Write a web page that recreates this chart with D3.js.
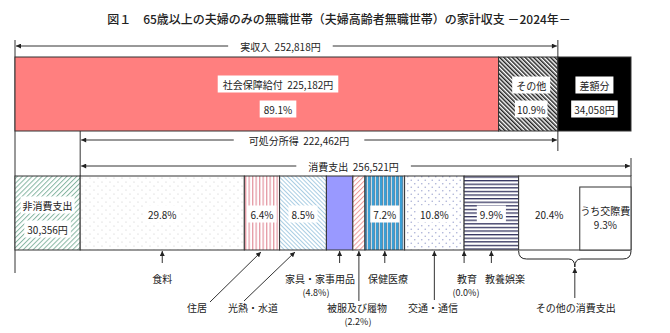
<!DOCTYPE html>
<html><head><meta charset="utf-8">
<script src="https://cdn.jsdelivr.net/npm/d3@7"></script>
<style>
html,body{margin:0;padding:0;background:#fff;}
svg text{font-family:"Noto Sans CJK JP","Noto Sans",sans-serif;fill:#222;white-space:pre;}
</style></head>
<body><svg id="c" width="670" height="333"></svg>
<script>
// ---- data ----
const title = "図１　65歳以上の夫婦のみの無職世帯（夫婦高齢者無職世帯）の家計収支 －2024年－";
const incomeCats = ["社会保障給付", "その他", "差額分"];
const incomeVals = [225182, 27636, 34058];
const incomeTotal = 252818;
const incomeShares = ["89.1%", "10.9%"];
const disposable = 222462;
const nonConsumption = 30356;
const consumption = 256521;
const consCats = ["食料","住居","光熱・水道","家具・家事用品","被服及び履物","保健医療","交通・通信","教育","教養娯楽","その他の消費支出"];
const consShares = [29.8, 6.4, 8.5, 4.8, 2.2, 7.2, 10.8, 0.0, 9.9, 20.4];
const kosaihiShare = 9.3;

// ---- layout ----
const svg = d3.select("#c");
const x = d3.scaleLinear().domain([0, nonConsumption + consumption]).range([15, 631]);
const topY = 57, topH = 74, botY = 176, botH = 74;
const defs = svg.append("defs");

function stripePat(id, color, size, width, angle, bg) {
  const p = defs.append("pattern").attr("id", id).attr("patternUnits", "userSpaceOnUse")
    .attr("width", size).attr("height", size).attr("patternTransform", `rotate(${angle})`);
  p.append("rect").attr("width", size).attr("height", size).attr("fill", bg || "#fff");
  p.append("rect").attr("x", 0).attr("y", 0).attr("width", width).attr("height", size).attr("fill", color);
}
stripePat("pOther", "#222", 3, 1.5, -45);
stripePat("pNon", "#86b6a2", 3.5, 1, 45);
stripePat("pHouse", "#e59aa6", 3.5, 1.3, 0);
stripePat("pUtil", "#a9cde3", 3, 1, -45);
stripePat("pCloth", "#ef9c9c", 3.5, 1, 45);
stripePat("pEdu", "#33335f", 3.6, 1.3, 90);
(function(){
  const p = defs.append("pattern").attr("id","pHealth").attr("patternUnits","userSpaceOnUse").attr("width",4).attr("height",4);
  p.append("rect").attr("width",4).attr("height",4).attr("fill","#fff");
  p.append("rect").attr("x",0).attr("width",2.6).attr("height",4).attr("fill","#3a9fd6");
  p.append("rect").attr("x",2.6).attr("width",0.6).attr("height",4).attr("fill","#1d3b55");
})();
function dotPat(id, color, size, r) {
  const p = defs.append("pattern").attr("id", id).attr("patternUnits", "userSpaceOnUse").attr("width", size).attr("height", size);
  p.append("rect").attr("width", size).attr("height", size).attr("fill", "#fff");
  p.append("circle").attr("cx", size/4).attr("cy", size/4).attr("r", r).attr("fill", color);
  p.append("circle").attr("cx", size*3/4).attr("cy", size*3/4).attr("r", r).attr("fill", color);
}
dotPat("pFood", "#c8c8c8", 8, 0.6);
dotPat("pTrans", "#aab0d6", 7, 0.8);

const consFills = ["url(#pFood)","url(#pHouse)","url(#pUtil)","#9999ff","url(#pCloth)","url(#pHealth)","url(#pTrans)","#fff","url(#pEdu)","#fff"];

function marker(id){
  defs.append("marker").attr("id", id).attr("viewBox","0 0 10 10").attr("refX",10).attr("refY",5)
    .attr("markerWidth",6).attr("markerHeight",5).attr("markerUnits","userSpaceOnUse").attr("orient","auto-start-reverse")
    .append("path").attr("d","M0,0 L10,5 L0,10 z").attr("fill","#222");
}
marker("arr");

const g = svg.append("g");
function line(x1,y1,x2,y2,opts){
  const l = g.append("line").attr("x1",x1).attr("y1",y1).attr("x2",x2).attr("y2",y2)
    .attr("stroke","#333").attr("stroke-width",1);
  if (opts && opts.start) l.attr("marker-start","url(#arr)");
  if (opts && opts.end) l.attr("marker-end","url(#arr)");
  return l;
}
function boxText(cx, cy, text, size, pad, noBox){
  const grp = g.append("g");
  const r = grp.append("rect").attr("fill","#fff");
  const t = grp.append("text").attr("x",cx).attr("y",cy).attr("text-anchor","middle")
    .attr("dominant-baseline","central").attr("font-size",size||10).text(text);
  const b = t.node().getBBox();
  const p = pad == null ? 3 : pad;
  r.attr("x", b.x - p).attr("y", b.y - 1).attr("width", b.width + 2*p).attr("height", b.height + 2);
  if (noBox) r.remove();
  return grp;
}
const fmt = d3.format(",");

g.append("text").attr("x", 339).attr("y", 18).attr("text-anchor","middle").attr("dominant-baseline","central")
  .attr("font-size",12).attr("font-weight",500).text(title);

const incomeEdges = [0];
incomeVals.forEach((v,i)=>incomeEdges.push(incomeEdges[i]+v));
const xInc = x(incomeTotal), xNon = x(nonConsumption), xEnd = x(nonConsumption+consumption);

line(x(0), 40, x(0), 273);
line(xInc, 40, xInc, topY);
line(xInc, topY+topH, xInc, 151);
line(xNon, topY+topH, xNon, botY);
line(xEnd, 158, xEnd, botY);

line(x(0)+1, 46, xInc-1, 46, {start:true, end:true});
boxText((x(0)+xInc)/2 - 6, 46, `実収入  ${fmt(incomeTotal)}円`, 10, 12);
line(xNon+1, 140, xInc-1, 140, {start:true, end:true});
boxText((xNon+xInc)/2 - 20, 140, `可処分所得  ${fmt(disposable)}円`, 10, 15);
line(xNon+1, 166, xEnd-1, 166, {start:true, end:true});
boxText((xNon+xEnd)/2 - 2, 166, `消費支出  ${fmt(consumption)}円`, 10, 12);

const topFills = ["#ff7f7f", "url(#pOther)", "#000"];
g.selectAll("rect.top").data(incomeVals).enter().append("rect").attr("class","top")
  .attr("x",(d,i)=>x(incomeEdges[i])).attr("y",topY)
  .attr("width",(d,i)=>x(incomeEdges[i+1])-x(incomeEdges[i])).attr("height",topH)
  .attr("fill",(d,i)=>topFills[i]).attr("stroke","#333").attr("stroke-width",1);
boxText(278, 84, `${incomeCats[0]}  ${fmt(incomeVals[0])}円`, 10, 5);
boxText(278, 109, incomeShares[0], 10, 4);
const cOther = (x(incomeEdges[1])+x(incomeEdges[2]))/2 + 3;
boxText(cOther, 85, incomeCats[1], 10, 4);
boxText(cOther, 109, incomeShares[1], 10, 2);
const cDiff = (x(incomeEdges[2])+x(incomeEdges[3]))/2;
boxText(cDiff, 85, incomeCats[2], 10, 4);
boxText(cDiff, 109, `${fmt(incomeVals[2])}円`, 10, 3);

g.append("rect").attr("x",x(0)).attr("y",botY).attr("width",xNon-x(0)).attr("height",botH)
  .attr("fill","url(#pNon)").attr("stroke","#333");
const xc = d3.scaleLinear().domain([0,100]).range([xNon, xEnd]);
const consEdges = [0];
consShares.forEach((v,i)=>consEdges.push(consEdges[i]+v));
g.selectAll("rect.cons").data(consShares).enter().append("rect").attr("class","cons")
  .attr("x",(d,i)=>xc(consEdges[i])).attr("y",botY)
  .attr("width",(d,i)=>xc(consEdges[i+1])-xc(consEdges[i])).attr("height",botH)
  .attr("fill",(d,i)=>consFills[i]).attr("stroke","#333").attr("stroke-width",1);
g.append("rect").attr("x", xEnd - (xc(kosaihiShare)-xc(0))).attr("y", 187)
  .attr("width", xc(kosaihiShare)-xc(0)).attr("height", botY+botH-187)
  .attr("fill","#fff").attr("stroke","#333");
const kx = xEnd - (xc(kosaihiShare)-xc(0))/2;
boxText(kx, 210, "うち交際費", 10, 1, true);
boxText(kx, 224, `${kosaihiShare.toFixed(1)}%`, 10, 1, true);

boxText((x(0)+xNon)/2, 205, "非消費支出", 10, 2);
boxText((x(0)+xNon)/2, 229, `${fmt(nonConsumption)}円`, 10, 3);
const mid = i => (xc(consEdges[i])+xc(consEdges[i+1]))/2;
consShares.forEach((v,i)=>{
  if (i===3 || i===4 || i===7) return;
  const cx = i===9 ? (xc(consEdges[9]) + xEnd - (xc(kosaihiShare)-xc(0)))/2 : mid(i);
  boxText(cx, 214, `${v.toFixed(1)}%`, 10, 3, i===9);
});

const bb = botY + botH;
function upArrow(x1,y1,x2,y2){ line(x1,y1,x2,y2,{end:true}); }
upArrow(mid(0), 263, mid(0), bb+1);
boxText(mid(0), 278, consCats[0], 10, 0, true);
upArrow(210, 302, mid(1)-1, bb+2);
boxText(197, 307, consCats[1], 10, 0, true);
upArrow(244, 301, mid(2)-8, bb+2);
boxText(253, 307, consCats[2], 10, 0, true);
upArrow(mid(3), 263, mid(3), bb+1);
boxText(320, 278, consCats[3], 10, 0, true);
boxText(316, 292, `(${consShares[3].toFixed(1)}%)`, 9, 0, true);
upArrow(mid(4), 301, mid(4), bb+1);
boxText(357, 307, consCats[4], 10, 0, true);
boxText(358, 321, `(${consShares[4].toFixed(1)}%)`, 9, 0, true);
upArrow(mid(5), 263, mid(5), bb+1);
boxText(388, 278, consCats[5], 10, 0, true);
upArrow(mid(6), 300, mid(6), bb+1);
boxText(433, 307, consCats[6], 10, 0, true);
upArrow(xc(consEdges[7]), 263, xc(consEdges[7]), bb+1);
boxText(467, 278, consCats[7], 10, 0, true);
boxText(466, 292, `(${consShares[7].toFixed(1)}%)`, 9, 0, true);
upArrow(mid(8), 263, mid(8), bb+1);
boxText(505, 278, consCats[8], 10, 0, true);
const bx0 = xc(consEdges[9]), bx1 = xEnd, bm = (bx0+bx1)/2;
g.append("path").attr("fill","none").attr("stroke","#222").attr("stroke-width",1)
  .attr("d", `M${bx0},${bb+1} Q${bx0},${bb+9} ${bx0+8},${bb+9} L${bm-6},${bb+9} Q${bm},${bb+9} ${bm},${bb+17} Q${bm},${bb+9} ${bm+6},${bb+9} L${bx1-8},${bb+9} Q${bx1},${bb+9} ${bx1},${bb+1}`);
upArrow(bm, 298, bm, bb+18);
boxText(bm+1, 307, consCats[9], 10, 0, true);
</script></body></html>
